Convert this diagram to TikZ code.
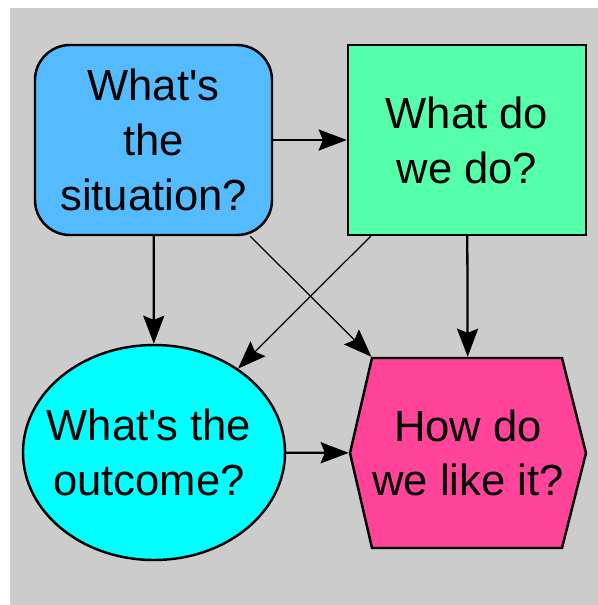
\documentclass[tikz,border=0pt]{standalone}
\usepackage{fontspec}
\setmainfont{Liberation Sans}
\definecolor{bggray}{HTML}{CCCCCC}
\definecolor{sitblue}{HTML}{55BBFF}
\definecolor{dogreen}{HTML}{55FFAA}
\definecolor{outcyan}{HTML}{00FFFF}
\definecolor{likepink}{HTML}{FF4499}
\usetikzlibrary{shapes.geometric,arrows.meta,calc}

\begin{document}
\begin{tikzpicture}[
  q/.style={draw=black, line width=0.7pt, align=center, inner sep=0pt,
    font=\fontsize{12.4pt}{15.6pt}\selectfont, text=black},
  arr/.style={-{Stealth[length=8pt,width=6pt,inset=1.2pt]}, line width=0.65pt},
  thin arr/.style={arr, line width=0.35pt}
]
  \useasboundingbox (0,0) rectangle (5.98,-6.05);
  \fill[bggray] (0.10,-0.08) rectangle (5.98,-6.05);

  \node[q, fill=sitblue, rounded corners=0.35cm, minimum width=2.37cm, minimum height=1.90cm]
    (situation) at (1.535,-1.40) {What\textquotesingle s\\the\\situation?};
  \node[q, fill=dogreen, minimum width=2.38cm, minimum height=1.90cm]
    (do) at (4.67,-1.40) {What do\\we do?};
  \node[q, ellipse, fill=outcyan, minimum width=2.62cm, minimum height=2.15cm,
    label={[q, draw=none, xshift=-0.05cm]center:What\textquotesingle s the\\outcome?}]
    (outcome) at (1.54,-4.525) {};

  % hexagon drawn under its node
  \coordinate (likec) at (4.68,-4.53);
  \filldraw[fill=likepink, draw=black, line width=0.7pt]
    ($(likec)+(-0.96,0.95)$) -- ($(likec)+(0.94,0.95)$) -- ($(likec)+(1.18,0)$)
    -- ($(likec)+(0.94,-0.95)$) -- ($(likec)+(-0.96,-0.95)$) -- ($(likec)+(-1.18,0)$) -- cycle;
  \node[q, draw=none, minimum width=2.36cm, minimum height=1.90cm]
    (like) at (likec) {How do\\we like it?};

  \draw[arr] (situation) -- (do);
  \draw[arr] (situation) -- (outcome);
  \draw[arr] (do) -- (like);
  \draw[arr] (outcome) -- (like);
  \draw[thin arr] (situation) -- (like);
  \draw[thin arr] (do) -- (outcome);
\end{tikzpicture}
\end{document}
